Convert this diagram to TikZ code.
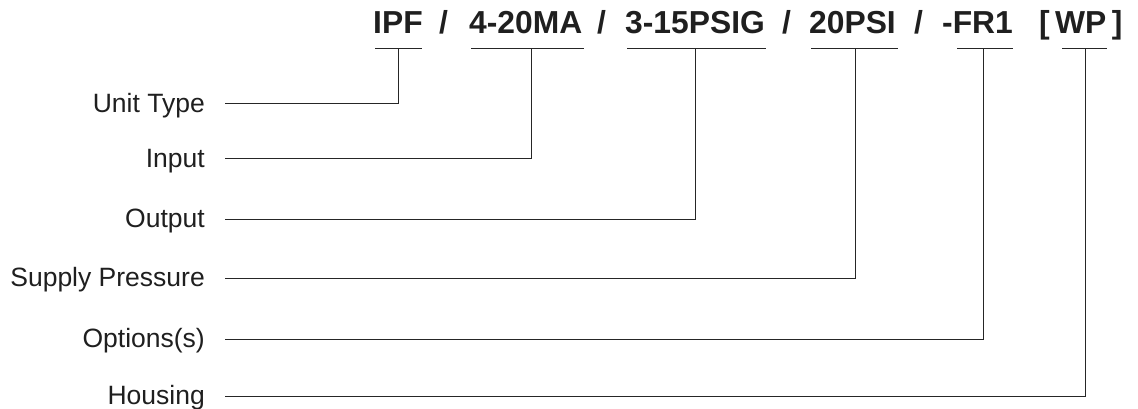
\documentclass[tikz,border=0pt]{standalone}
\usepackage{fontspec}
\setmainfont{Liberation Sans}
\begin{document}
\begin{tikzpicture}[x=1pt,y=-1pt,
  lbl/.style={anchor=base east,inner sep=0pt,text=black!88,font=\fontsize{26.5}{26.5}\selectfont},
  hdr/.style={anchor=base west,inner sep=0pt,text=black!88,font=\bfseries\fontsize{31.8}{31.8}\selectfont},
  uline/.style={line width=1pt,draw=black!85},
  conn/.style={line width=1pt,draw=black!85}]
\useasboundingbox (0,0) rectangle (1138,409);
% header pieces
\node[hdr] (h1) at (373,34) {IPF};
\node[hdr] (s1) at (439,34) {/};
\node[hdr] (h2) at (469,34) {4-20MA};
\node[hdr] (s2) at (597,34) {/};
\node[hdr] (h3) at (625,34) {3-15PSIG};
\node[hdr] (s3) at (782,34) {/};
\node[hdr] (h4) at (809,34) {20PSI};
\node[hdr] (s4) at (914,34) {/};
\node[hdr] (h5) at (942,34) {-FR1};
\node[hdr] (h6) at (1039,34) {{[}\hspace{0.17em}WP\hspace{0.17em}{]}};
% underline coordinates
\coordinate (u1) at (398,49);
\coordinate (u2) at (531,49);
\coordinate (u3) at (695,49);
\coordinate (u4) at (855,49);
\coordinate (u5) at (983,49);
\coordinate (u6) at (1085,49);
\draw[uline] (375,49) -- (422,49);
\draw[uline] (471,49) -- (584,49);
\draw[uline] (627,49) -- (766,49);
\draw[uline] (811,49) -- (898,49);
\draw[uline] (957,49) -- (1013,49);
\draw[uline] (1062,49) -- (1107,49);
% labels
\node[lbl] (l1) at (205,112.5) {Unit Type};
\node[lbl] (l2) at (205,167.5) {Input};
\node[lbl] (l3) at (205,227.5) {Output};
\node[lbl] (l4) at (205,286.5) {Supply Pressure};
\node[lbl] (l5) at (205,347.5) {Options(s)};
\node[lbl] (l6) at (205,404.5) {Housing};
% connectors
\coordinate (c1) at (225,104);
\coordinate (c2) at (225,159);
\coordinate (c3) at (225,219);
\coordinate (c4) at (225,278);
\coordinate (c5) at (225,339);
\coordinate (c6) at (225,396);
\draw[conn] (c1) -| (u1);
\draw[conn] (c2) -| (u2);
\draw[conn] (c3) -| (u3);
\draw[conn] (c4) -| (u4);
\draw[conn] (c5) -| (u5);
\draw[conn] (c6) -| (u6);
\end{tikzpicture}
\end{document}
